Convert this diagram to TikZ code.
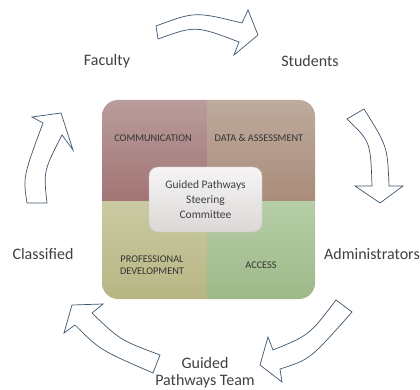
\documentclass[tikz,border=0pt]{standalone}
\usepackage{fontspec}
\setmainfont{Carlito}
\definecolor{arrowline}{HTML}{3E566C}
\definecolor{qTLt}{HTML}{B99C9C}
\definecolor{qTLb}{HTML}{A27474}
\definecolor{qTRt}{HTML}{BDAB9D}
\definecolor{qTRb}{HTML}{A98B79}
\definecolor{qBLt}{HTML}{CACAA2}
\definecolor{qBLb}{HTML}{B6B684}
\definecolor{qBRt}{HTML}{B6CEA6}
\definecolor{qBRb}{HTML}{9DB988}
\definecolor{cTop}{HTML}{F6F4F4}
\definecolor{cBot}{HTML}{DCD8D8}
\begin{document}
\begin{tikzpicture}[x=1pt,y=-1pt,
  lbl/.style={font=\fontsize{16}{17}\selectfont, text=black!75, align=center, inner sep=0pt},
  qlbl/.style={font=\fontsize{10.3}{12}\selectfont, text=black!80, align=center, inner sep=0pt},
  barrow/.style={draw=arrowline, fill=white, line width=0.7pt, line join=miter}
]
\useasboundingbox (0,0) rectangle (420,390);
% square with quadrants
\begin{scope}
  \clip[rounded corners=16pt] (102,100) rectangle (315,299);
  \shade[top color=qTLt, bottom color=qTLb] (102,100) rectangle (207.5,201.5);
  \shade[top color=qTRt, bottom color=qTRb] (207.5,100) rectangle (315,201.5);
  \shade[top color=qBLt, bottom color=qBLb] (102,201.5) rectangle (207.5,299);
  \shade[top color=qBRt, bottom color=qBRb] (207.5,201.5) rectangle (315,299);
\end{scope}
\node[qlbl] (comm) at (153,138) {COMMUNICATION};
\node[qlbl] (data) at (259,138) {DATA \& ASSESSMENT};
\node[qlbl] (prof) at (152,265) {PROFESSIONAL\\DEVELOPMENT};
\node[qlbl] (acc) at (261,265) {ACCESS};
% center box
\shade[rounded corners=9pt, top color=cTop, bottom color=cBot, draw=black!22, line width=0.4pt] (149,167) rectangle (262,232);
\node[font=\fontsize{11.5}{15}\selectfont, text=black!75, align=center, inner sep=0pt] (center) at (205.5,200) {Guided Pathways\\Steering\\Committee};
% labels
\node[lbl] (fac) at (107,61) {Faculty};
\node[lbl] (stu) at (310,61) {Students};
\node[lbl] (adm) at (372,254) {Administrators};
\node[lbl] (cla) at (43,254) {Classified};
\node[lbl] (gpt) at (205,373) {Guided\\Pathways Team};
% block arrows
% top
\draw[barrow] (156,26) .. controls (195,11.5) .. (242,23) -- (248,10) -- (258,35) -- (234,55) -- (239,42) .. controls (195.5,25.5) .. (158,39) -- cycle;
% right
\draw[barrow] (364,109) .. controls (387.5,146.5) .. (389,186) -- (403,186) -- (380,203) -- (355,186) -- (372,186) .. controls (370.5,141.5) .. (347,119) -- cycle;
% bottom right
\draw[barrow] (336,300) .. controls (309.5,335) .. (273,350) -- (268,337) -- (260,365) -- (282,382) -- (280,369) .. controls (310,359.5) .. (352,312) -- cycle;
% bottom left
\draw[barrow] (160,355) .. controls (120,340) .. (92,313) -- (103,304) -- (72,305) -- (64,333) -- (75,325) .. controls (100,350) .. (153,373) -- cycle;
% left
\draw[barrow] (47,203) .. controls (43.5,171) .. (62,135) -- (73,150) -- (61,113) -- (32,117) -- (43,123) .. controls (23,177) .. (27,203) -- cycle;
\end{tikzpicture}
\end{document}
